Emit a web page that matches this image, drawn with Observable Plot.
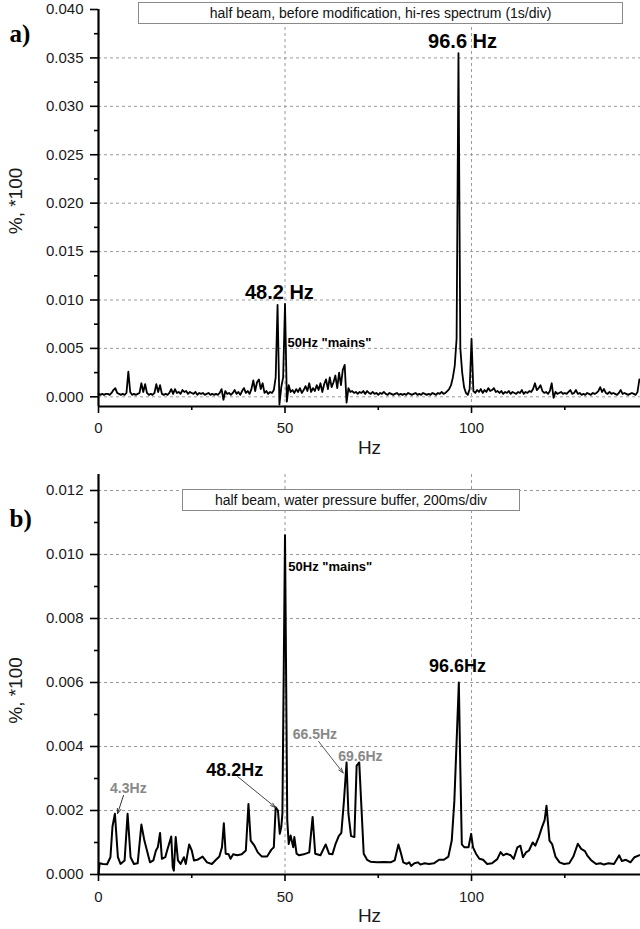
<!DOCTYPE html>
<html><head><meta charset="utf-8">
<script src="https://cdn.jsdelivr.net/npm/d3@7"></script>
<script src="https://cdn.jsdelivr.net/npm/@observablehq/plot@0.6"></script>
<style>
body{margin:0;background:#fff;font-family:"Liberation Sans",Arial,sans-serif;}
#wrap{position:relative;width:640px;height:929px;overflow:hidden;}
.panel{position:absolute;left:0;width:640px;}
.box{position:absolute;border:1px solid #8a8a8a;background:#fff;font-size:14px;text-align:center;color:#111;box-sizing:border-box;white-space:nowrap;}
</style></head><body>
<div id="wrap">
  <div class="panel" id="pa" style="top:0"></div>
  <div class="panel" id="pb" style="top:460px"></div>
</div>
<script>
// ---------- DATA ----------
// Panel a: hi-res spectrum, frequency step 0.5 Hz starting at 0 Hz, values in units of 1e-4 (%*100)
const topStep = 0.5;
const topVal = [
  3,2,3,2,3,3,2,4,7,9, 4,3,2,3,2,4,26,5,2,3,
  2,3,4,14,5,13,4,2,3,2, 4,13,5,12,3,2,3,2,4,8,
  3,8,4,5,3,7,5,6,3,5, 4,3,5,2,4,3,4,2,3,4,
  2,3,2,3,2,4,8,-3,6,3, 4,2,4,7,3,5,2,6,9,4,
  6,3,8,17,6,15,18,8,14,4, 6,3,5,4,7,20,95,-8,10,20,
  96,-5,12,5,7,4,8,5,9,4, 7,11,6,14,5,9,6,12,7,14,
  5,13,18,8,20,10,15,22,9,25, 12,28,33,-6,9,5,6,4,5,3,
  5,4,6,3,6,4,3,5,3,4, 2,4,3,5,3,2,4,3,2,3,
  4,2,3,2,3,2,4,3,2,3, 4,2,3,2,4,3,2,3,2,4,
  3,2,4,3,5,3,4,6,8,12, 20,32,60,355,50,25,10,4,2,8,
  60,6,4,7,5,8,4,7,5,9, 6,7,9,5,6,4,6,3,5,4,
  6,3,5,4,3,5,4,7,3,5, 4,6,5,8,14,7,9,12,6,4,
  5,3,6,14,-1,5,3,4,5,3, 4,3,5,7,3,4,7,3,4,2,
  3,2,4,3,2,4,3,4,6,10, 5,8,4,3,5,3,4,3,2,4,
  7,3,4,3,2,3,4,3,2,5, 18
];
// Panel b: 200ms/div spectrum, frequencies (Hz) and values in units of 1e-4
const botHz = [
  0,0.3,1.2,2.3,3.2,3.75,4.4,5.2,5.9,7.0,7.8,8.6,9.5,10.5,11.5,12.3,13.8,14.7,15.4,15.9,
  16.5,17.0,17.9,18.4,19.5,19.9,20.2,20.7,21.3,22.0,22.9,23.4,24.3,25.0,25.6,26.5,27.9,29.1,30.4,31.5,
  32.4,33.1,33.6,34.1,34.9,35.4,36.1,37.2,38.4,39.5,40.2,40.8,41.8,42.7,43.8,45.2,46.3,47.0,47.5,48.1,
  48.6,49.0,49.3,50.0,50.6,51.0,51.5,52.2,52.5,53.1,53.8,55.0,56.5,57.4,58.1,59.5,60.9,61.8,62.7,63.5,
  64.4,65.1,65.8,66.5,67.0,67.7,68.6,69.2,69.9,70.4,71.1,72.0,72.9,74.7,76.5,78.3,79.4,80.4,81.0,81.7,
  82.6,83.3,83.8,84.7,85.6,86.3,87.4,88.6,89.9,91.3,92.6,93.8,94.7,95.4,96.6,97.0,97.4,98.1,99.2,99.9,
  100.4,101.2,102.1,103.1,104.2,105.5,106.9,107.8,108.5,109.4,110.5,111.3,112.3,113.1,113.8,114.6,115.4,116.4,117.1,118.0,
  118.9,119.6,120.1,120.9,121.6,122.5,123.6,124.8,126.2,127.3,128.5,129.4,130.4,131.0,132.1,133.4,134.6,135.5,136.7,138.2,
  139.6,140.3,141.4,142.6,143.7,144.9,145.5
];
const botVal = [
  0,3.5,3.3,3.2,5.4,15,19,5.4,3.3,4.4,19,5.4,3.3,3.5,15.6,10.6,3.8,4.4,7.5,8.5,
  13,4.9,5.4,7.5,11.9,2.3,1.2,11.7,4.4,3.3,5.4,3.3,9.4,7.5,4.4,4.6,5.6,3.8,3.3,4.6,
  5.6,8.5,16,6.5,6.3,4.9,6.3,6.0,6.3,7.5,22,10.6,9.0,6.9,5.6,5.6,7.7,8.5,21,20,
  12.7,14.8,19,106,17,9.5,12.2,8.5,11.7,6.5,6.0,6.3,6.9,18,6.5,6.0,9.4,6.5,6.3,9.4,
  12,13,23,35,19,12,11.7,34,35,23,6.5,4.6,4.0,3.8,3.9,3.8,4.4,9.4,7.0,3.8,
  3.3,3.8,2.7,3.5,3.8,3.1,3.5,3.3,3.5,4.6,4.6,5.6,10.6,23,60,33,9.4,8.5,8.5,12.7,
  8.5,6.5,4.9,4.6,3.3,3.5,4.8,7.0,6.0,6.5,6.0,4.9,8.5,9.0,5.4,6.9,7.5,10.0,9.0,11.6,
  14.8,17,21.5,10.6,9.5,5.6,3.8,3.3,3.5,5.6,9.6,8.0,7.3,6.0,4.4,3.3,3.5,3.1,3.5,3.3,
  6.0,4.2,4.6,3.8,5.4,6.0,6.0
];
// axes
const xTicks = [0, 50, 100];
const xMinor = [25, 75, 125];
const xGrid = [50, 100];
const topYTicks = [0, 0.005, 0.010, 0.015, 0.020, 0.025, 0.030, 0.035, 0.040];
const topYMinor = [0.0025, 0.0075, 0.0125, 0.0175, 0.0225, 0.0275, 0.0325, 0.0375];
const topYGrid = [0, 0.005, 0.010, 0.015, 0.020, 0.025, 0.030, 0.035];
const botYTicks = [0, 0.002, 0.004, 0.006, 0.008, 0.010, 0.012];
const botYMinor = [0.001, 0.003, 0.005, 0.007, 0.009, 0.011];
const botYGrid = [0.002, 0.004, 0.006, 0.008, 0.010, 0.012];
const xLabel = "Hz";
const yLabel = "%, *100";
const titleA = "half beam, before modification, hi-res spectrum (1s/div)";
const titleB = "half beam, water pressure buffer, 200ms/div";

// ---------- BUILD ----------
const topData = topVal.map((v, i) => ({hz: i * topStep, v: v * 1e-4}));
const botData = botHz.map((h, i) => ({hz: h, v: botVal[i] * 1e-4}));
const fmt = d3.format(".3f");
const FONT = "Liberation Sans, Arial, sans-serif";
const gridStyle = {stroke: "#9a9a9a", strokeDasharray: "3,3", strokeWidth: 1};

function axes(yTicks, yMinor, yMin, xDy) {
  return [
    Plot.axisY({ticks: yTicks, tickFormat: fmt, tickSize: 8, tickPadding: 7, strokeWidth: 1.6, fontSize: 15, label: null, fill: "#1a1a1a"}),
    Plot.axisY({ticks: yMinor, tickFormat: () => "", tickSize: 4, strokeWidth: 1.6, label: null}),
    Plot.axisX({ticks: xTicks, tickSize: 7, tickPadding: xDy, strokeWidth: 1.6, fontSize: 15, label: null, fill: "#1a1a1a"}),
    Plot.axisX({ticks: xMinor, tickFormat: () => "", tickSize: 4, strokeWidth: 1.6, label: null}),
    Plot.ruleX([0], {stroke: "#000", strokeWidth: 2.2}),
    Plot.ruleY([yMin], {stroke: "#000", strokeWidth: 2.2}),
    Plot.text([xLabel], {frameAnchor: "bottom", textAnchor: "middle", lineAnchor: "middle", dy: 41, fontSize: 19, fill: "#1a1a1a"}),
  ];
}

const plotA = Plot.plot({
  width: 640, height: 460,
  marginLeft: 98, marginRight: 0, marginTop: 9, marginBottom: 54,
  style: {fontFamily: FONT, fontSize: "15px", color: "#000", background: "#fff", overflow: "visible"},
  x: {domain: [0, 145.3], label: null},
  y: {domain: [-0.001, 0.040], label: null},
  marks: [
    Plot.ruleY(topYGrid, gridStyle),
    Plot.ruleX(xGrid, gridStyle),
    Plot.line(topData, {x: "hz", y: "v", stroke: "#000", strokeWidth: 1.8, strokeLinejoin: "round"}),
    ...axes(topYTicks, topYMinor, -0.001, 9),
    Plot.text([yLabel], {frameAnchor: "left", textAnchor: "middle", lineAnchor: "middle", rotate: -90, dx: -83, dy: -7, fontSize: 19, fill: "#1a1a1a"}),
    Plot.text(["a)"], {frameAnchor: "top-left", textAnchor: "start", lineAnchor: "middle", dx: -89, dy: 24, fontSize: 25, fontWeight: "bold", fontFamily: "Liberation Serif, Times New Roman, serif"}),
    Plot.text(["96.6 Hz"], {x: 97.6, y: 0.0367, fontSize: 20, fontWeight: "bold", fill: "#000"}),
    Plot.text(["48.2 Hz"], {x: 48.5, y: 0.0108, fontSize: 20, fontWeight: "bold", fill: "#000"}),
    Plot.text(["50Hz \"mains\""], {x: 50.7, y: 0.00555, textAnchor: "start", fontSize: 13, fontWeight: "bold", fill: "#000"})
  ]
});

const plotB = Plot.plot({
  width: 640, height: 469,
  marginLeft: 98, marginRight: 0, marginTop: 14, marginBottom: 55,
  style: {fontFamily: FONT, fontSize: "15px", color: "#000", background: "#fff", overflow: "visible"},
  x: {domain: [0, 145.3], label: null},
  y: {domain: [0, 0.0125], label: null},
  marks: [
    Plot.ruleY(botYGrid, gridStyle),
    Plot.ruleX(xGrid, gridStyle),
    Plot.line(botData, {x: "hz", y: "v", stroke: "#000", strokeWidth: 2, strokeLinejoin: "round"}),
    ...axes(botYTicks, botYMinor, 0, 10),
    Plot.text([yLabel], {frameAnchor: "left", textAnchor: "middle", lineAnchor: "middle", rotate: -90, dx: -83, dy: 16, fontSize: 19, fill: "#1a1a1a"}),
    Plot.text(["b)"], {frameAnchor: "top-left", textAnchor: "start", lineAnchor: "middle", dx: -89, dy: 44, fontSize: 25, fontWeight: "bold", fontFamily: "Liberation Serif, Times New Roman, serif"}),
    Plot.text(["50Hz \"mains\""], {x: 50.9, y: 0.009625, textAnchor: "start", fontSize: 13, fontWeight: "bold", fill: "#000"}),
    Plot.text(["96.6Hz"], {x: 96.25, y: 0.0065, fontSize: 18, fontWeight: "bold", fill: "#000"}),
    Plot.text(["48.2Hz"], {x: 36.5, y: 0.00325, fontSize: 18, fontWeight: "bold", fill: "#000"}),
    Plot.text(["4.3Hz"], {x: 8.0, y: 0.00269, fontSize: 14, fontWeight: "bold", fill: "#888"}),
    Plot.text(["66.5Hz"], {x: 58.0, y: 0.004375, fontSize: 14, fontWeight: "bold", fill: "#888"}),
    Plot.text(["69.6Hz"], {x: 70.2, y: 0.00369, fontSize: 14, fontWeight: "bold", fill: "#888"}),
    Plot.arrow([{x1: 6.7, y1: 0.00247, x2: 5.1, y2: 0.0019}], {x1: "x1", y1: "y1", x2: "x2", y2: "y2", stroke: "#333", strokeWidth: 1, headLength: 8, headAngle: 40}),
    Plot.arrow([{x1: 37.3, y1: 0.00306, x2: 47.5, y2: 0.00209}], {x1: "x1", y1: "y1", x2: "x2", y2: "y2", stroke: "#333", strokeWidth: 0.9, headLength: 9, headAngle: 35}),
    Plot.arrow([{x1: 59.0, y1: 0.00416, x2: 65.6, y2: 0.00317}], {x1: "x1", y1: "y1", x2: "x2", y2: "y2", stroke: "#444", strokeWidth: 0.9, headLength: 9, headAngle: 35})
  ]
});

const pa = document.getElementById("pa");
const pb = document.getElementById("pb");
pa.appendChild(plotA);
pb.appendChild(plotB);

function addBox(parent, text, left, top, width, height) {
  const b = document.createElement("div");
  b.className = "box";
  b.textContent = text;
  b.style.left = left + "px";
  b.style.top = top + "px";
  b.style.width = width + "px";
  b.style.height = height + "px";
  b.style.lineHeight = (height - 2) + "px";
  parent.appendChild(b);
}
addBox(pa, titleA, 138, 2, 485, 22);
addBox(pb, titleB, 182, 29, 338, 22);
</script>
</body></html>
